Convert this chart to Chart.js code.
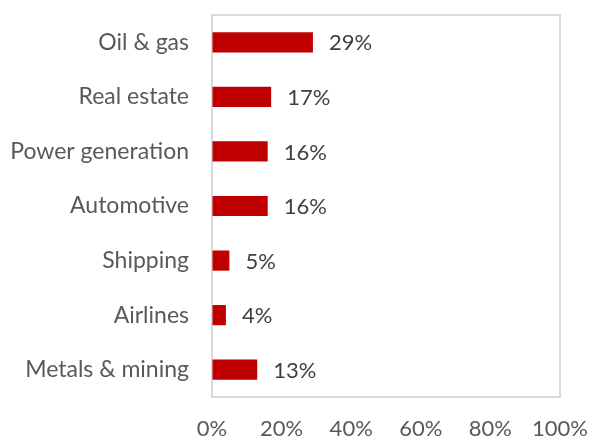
<!DOCTYPE html>
<html>
<head>
<meta charset="utf-8">
<script src="https://cdn.jsdelivr.net/npm/chart.js@4"></script>
<style>
html,body{margin:0;padding:0;background:#fff;}
#wrap{width:591px;height:439px;}
</style>
</head>
<body>
<div id="wrap"><canvas id="c" width="591" height="439"></canvas></div>
<script>
const categories = ["Oil & gas", "Real estate", "Power generation", "Automotive", "Shipping", "Airlines", "Metals & mining"];
const values = [29, 17, 16, 16, 5, 4, 13];
const xTicks = [0, 20, 40, 60, 80, 100];

const FONT = "Lato, 'Open Sans', sans-serif";

const boxPlugin = {
  id: 'box',
  beforeDatasetsDraw(chart) {
    const a = chart.chartArea, ctx = chart.ctx;
    ctx.save();
    ctx.strokeStyle = '#d9d9d9';
    ctx.lineWidth = 2;
    ctx.strokeRect(a.left, a.top, a.right - a.left, a.bottom - a.top);
    ctx.restore();
  }
};
const labelPlugin = {
  id: 'vlabels',
  afterDatasetsDraw(chart) {
    const ctx = chart.ctx;
    const meta = chart.getDatasetMeta(0);
    ctx.save();
    ctx.font = "22px " + FONT;
    ctx.fillStyle = '#404040';
    ctx.textAlign = 'left';
    ctx.textBaseline = 'middle';
    meta.data.forEach((bar, i) => {
      ctx.fillText(values[i] + '%', bar.x + 16, bar.y + 1);
    });
    ctx.restore();
  }
};

function draw() {
new Chart(document.getElementById('c'), {
  type: 'bar',
  data: {
    labels: categories,
    datasets: [{
      data: values,
      backgroundColor: '#C00000',
      borderWidth: 0,
      barPercentage: 0.37,
      categoryPercentage: 1
    }]
  },
  options: {
    indexAxis: 'y',
    responsive: false,
    animation: false,
    devicePixelRatio: 1,
    layout: { padding: { top: 15, right: 31, left: 0, bottom: 0 } },
    plugins: { legend: { display: false }, tooltip: { enabled: false } },
    scales: {
      x: {
        min: 0, max: 100,
        afterBuildTicks(scale) { scale.ticks = xTicks.map(v => ({ value: v })); },
        grid: { display: true, drawOnChartArea: false, drawTicks: true, tickLength: 19, color: 'rgba(0,0,0,0)' },
        border: { display: false },
        ticks: {
          callback: v => v + '%',
          color: '#595959',
          font: { family: FONT, size: 22 },
          padding: 0,
          maxRotation: 0
        },
        afterFit(scale) { scale.height = 42; }
      },
      y: {
        grid: { display: true, drawOnChartArea: false, drawTicks: true, tickLength: 23, color: 'rgba(0,0,0,0)' },
        border: { display: false },
        ticks: {
          color: '#595959',
          font: { family: FONT, size: 23 },
          padding: 0
        },
        afterFit(scale) { scale.width = 212; }
      }
    }
  },
  plugins: [boxPlugin, labelPlugin]
});
}
if (document.fonts && document.fonts.load) {
  Promise.all([document.fonts.load("22px Lato"), document.fonts.load("23px Lato")]).then(draw, draw);
} else { draw(); }
</script>
</body>
</html>
